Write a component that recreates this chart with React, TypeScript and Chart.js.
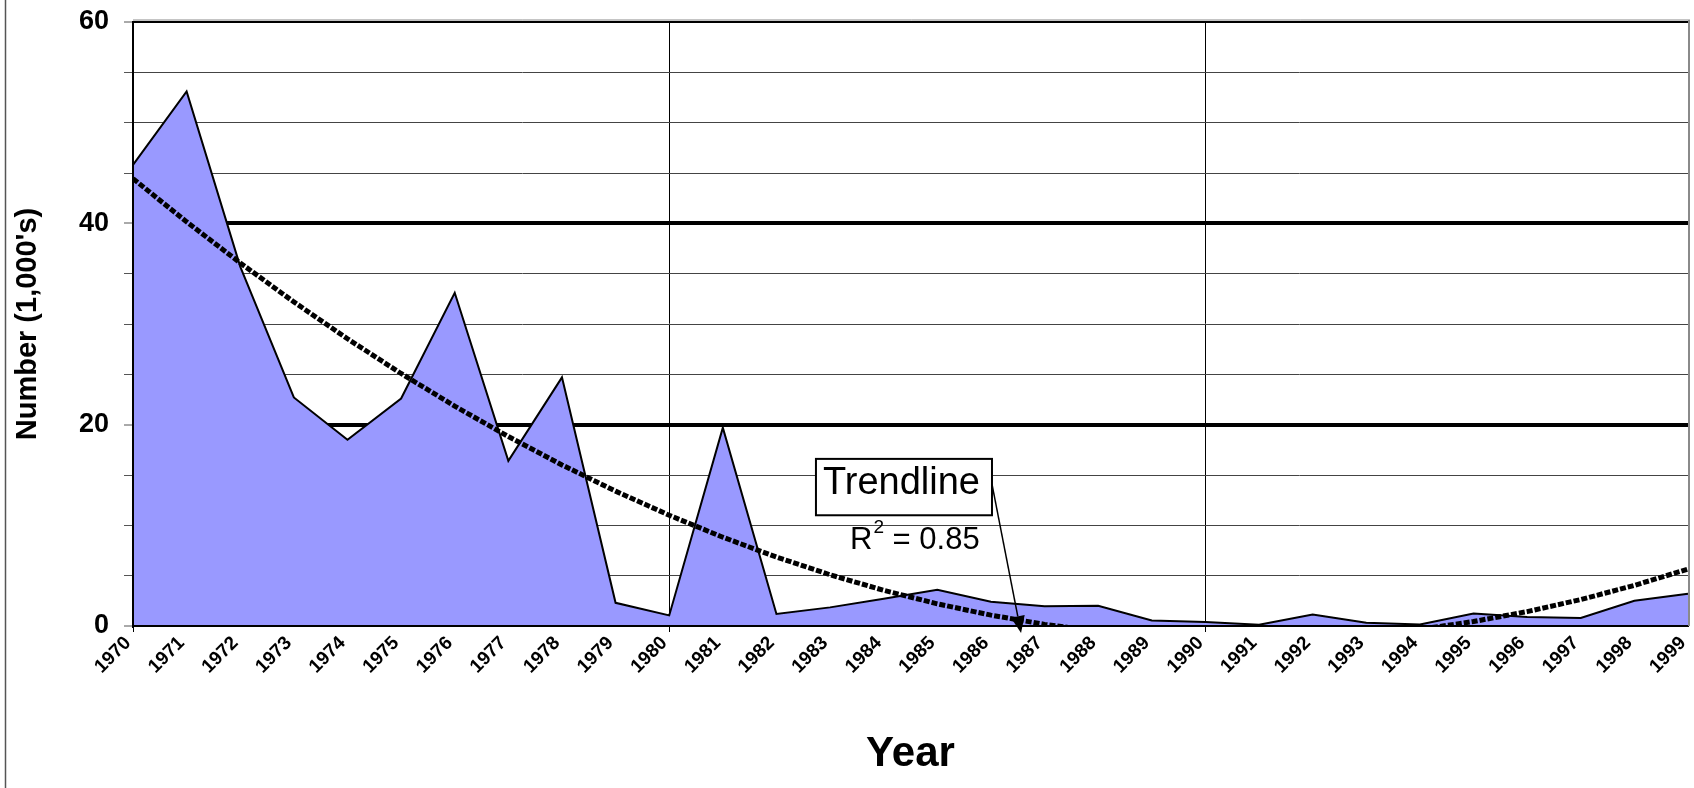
import { useEffect, useRef } from 'react';
import { Chart, registerables } from 'chart.js';

Chart.register(...registerables);

// Category labels along the bottom axis
const years = [
  '1970', '1971', '1972', '1973', '1974', '1975', '1976', '1977', '1978', '1979',
  '1980', '1981', '1982', '1983', '1984', '1985', '1986', '1987', '1988', '1989',
  '1990', '1991', '1992', '1993', '1994', '1995', '1996', '1997', '1998', '1999',
];

// Yearly counts, in thousands
const counts = [
  45.8, 53.1, 35.7, 22.7, 18.5, 22.6, 33.1, 16.4, 24.7, 2.3,
  1.05, 19.7, 1.2, 1.85, 2.7, 3.6, 2.4, 1.95, 2.0, 0.55,
  0.4, 0.13, 1.15, 0.33, 0.16, 1.25, 0.9, 0.8, 2.5, 3.2,
];

// Labelled values on the vertical axis (minor rules every 5)
const yLabelValues = [0, 20, 40, 60];
const yMax = 60;
const yStep = 5;

const calloutTitle = 'Trendline';
const rSquaredText = '0.85';

const FONT = "'Liberation Sans', Arial, Helvetica, sans-serif";

// Second-order polynomial least-squares trend through the counts (x = 0..n-1)
function polynomialTrend(values: number[]): number[] {
  let s0 = 0, s1 = 0, s2 = 0, s3 = 0, s4 = 0, v0 = 0, v1 = 0, v2 = 0;
  values.forEach((y, t) => {
    const t2 = t * t;
    s0 += 1; s1 += t; s2 += t2; s3 += t2 * t; s4 += t2 * t2;
    v0 += y; v1 += t * y; v2 += t2 * y;
  });
  const m = [[s0, s1, s2], [s1, s2, s3], [s2, s3, s4]];
  const rhs = [v0, v1, v2];
  const det = (a: number[][]) =>
    a[0][0] * (a[1][1] * a[2][2] - a[1][2] * a[2][1]) -
    a[0][1] * (a[1][0] * a[2][2] - a[1][2] * a[2][0]) +
    a[0][2] * (a[1][0] * a[2][1] - a[1][1] * a[2][0]);
  const d = det(m);
  const coef = [0, 1, 2].map(
    (k) => det(m.map((row, i) => row.map((x, j) => (j === k ? rhs[i] : x)))) / d,
  );
  return values.map((_, t) => coef[0] + coef[1] * t + coef[2] * t * t);
}

// Plot frame: outer left rule, double top rule, grey right edge
const framePlugin = {
  id: 'frame',
  afterDraw(chart: any) {
    const { ctx, chartArea: a } = chart;
    ctx.save();
    ctx.strokeStyle = '#555';
    ctx.lineWidth = 1.5;
    ctx.beginPath();
    ctx.moveTo(5.5, 0);
    ctx.lineTo(5.5, chart.height);
    ctx.stroke();

    ctx.strokeStyle = '#8a8a8a';
    ctx.lineWidth = 1;
    ctx.beginPath();
    ctx.moveTo(a.left, a.top - 2);
    ctx.lineTo(a.right + 2, a.top - 2);
    ctx.stroke();

    ctx.lineWidth = 2;
    ctx.beginPath();
    ctx.moveTo(a.right + 1, a.top - 2);
    ctx.lineTo(a.right + 1, a.bottom);
    ctx.stroke();
    ctx.restore();
  },
};

// Boxed "Trendline" callout with R² text and an arrow down to the curve
const calloutPlugin = {
  id: 'callout',
  afterDatasetsDraw(chart: any) {
    const { ctx, chartArea: a, scales } = chart;
    const yS = scales.y;
    const fx = (f: number) => a.left + f * (a.right - a.left);

    const boxL = fx(0.4392);
    const boxR = fx(0.5524);
    const boxT = yS.getPixelForValue(16.6);
    const boxB = yS.getPixelForValue(11.0);

    ctx.save();
    // arrow
    const sx = boxR;
    const sy = yS.getPixelForValue(14.1);
    const tx = fx(0.5711);
    const ty = yS.getPixelForValue(-0.7);
    const ang = Math.atan2(ty - sy, tx - sx);
    const headLen = 17;
    const headHalf = 7;
    const bx = tx - headLen * Math.cos(ang);
    const by = ty - headLen * Math.sin(ang);
    ctx.strokeStyle = '#000';
    ctx.lineWidth = 1.5;
    ctx.beginPath();
    ctx.moveTo(sx, sy);
    ctx.lineTo(bx, by);
    ctx.stroke();
    ctx.fillStyle = '#000';
    ctx.beginPath();
    ctx.moveTo(tx, ty);
    ctx.lineTo(bx + headHalf * Math.sin(ang), by - headHalf * Math.cos(ang));
    ctx.lineTo(bx - headHalf * Math.sin(ang), by + headHalf * Math.cos(ang));
    ctx.closePath();
    ctx.fill();

    // box
    ctx.fillStyle = '#fff';
    ctx.fillRect(boxL, boxT, boxR - boxL, boxB - boxT);
    ctx.strokeStyle = '#000';
    ctx.lineWidth = 2;
    ctx.strokeRect(boxL, boxT, boxR - boxL, boxB - boxT);

    ctx.fillStyle = '#000';
    ctx.textBaseline = 'alphabetic';
    ctx.textAlign = 'left';
    ctx.font = `38px ${FONT}`;
    ctx.fillText(calloutTitle, boxL + 7, boxT + 35);

    // R² = value
    const rx = fx(0.4611);
    const ry = yS.getPixelForValue(7.62);
    ctx.font = `31px ${FONT}`;
    ctx.fillText('R', rx, ry);
    const rw = ctx.measureText('R').width;
    ctx.font = `19px ${FONT}`;
    ctx.fillText('2', rx + rw + 1, ry - 16);
    const sw = ctx.measureText('2').width;
    ctx.font = `31px ${FONT}`;
    ctx.fillText(` = ${rSquaredText}`, rx + rw + sw + 1, ry);
    ctx.restore();
  },
};

export default function App() {
  const canvasRef = useRef<HTMLCanvasElement | null>(null);

  useEffect(() => {
    const canvas = canvasRef.current;
    if (!canvas) return;
    const trend = polynomialTrend(counts);

    const chart = new Chart(canvas, {
      type: 'line',
      data: {
        labels: years,
        datasets: [
          {
            label: 'Number',
            data: counts,
            fill: 'origin',
            backgroundColor: '#9999ff',
            borderColor: '#000',
            borderWidth: 2,
            pointRadius: 0,
            tension: 0,
            order: 2,
          },
          {
            label: 'Trend',
            data: trend,
            fill: false,
            borderColor: '#000',
            borderWidth: 5,
            borderDash: [6, 2],
            pointRadius: 0,
            tension: 0,
            clip: 0,
            order: 1,
          },
        ],
      },
      options: {
        responsive: false,
        animation: false,
        devicePixelRatio: 1,
        layout: { padding: { left: 0, right: 6, top: 22, bottom: 0 } },
        plugins: {
          legend: { display: false },
          tooltip: { enabled: false },
        },
        scales: {
          x: {
            type: 'category',
            offset: false,
            afterFit(scale: any) {
              scale.height = 162;
              scale.paddingLeft = 0;
              scale.paddingRight = 0;
              scale.paddingTop = 0;
              scale.paddingBottom = 0;
            },
            grid: {
              color: (c: any) => (c.index % 10 === 0 ? '#000' : 'rgba(0,0,0,0)'),
              lineWidth: 1,
              tickLength: 6,
              tickWidth: 1,
            },
            border: { display: true, color: '#000', width: 2, z: 1 },
            ticks: {
              autoSkip: false,
              minRotation: 45,
              maxRotation: 45,
              padding: 0,
              labelOffset: -5,
              color: '#000',
              font: { family: FONT, size: 19, weight: 'bold' },
            },
            title: {
              display: true,
              text: 'Year',
              color: '#000',
              font: { family: FONT, size: 42, weight: 'bold', lineHeight: 1 },
              padding: { top: 0, bottom: 13 },
            },
          },
          y: {
            min: 0,
            max: yMax,
            afterFit(scale: any) {
              scale.width = 133;
              scale.paddingTop = 0;
              scale.paddingBottom = 0;
              scale.paddingLeft = 0;
              scale.paddingRight = 0;
            },
            ticks: {
              stepSize: yStep,
              padding: 15,
              color: '#000',
              font: { family: FONT, size: 27, weight: 'bold' },
              callback: (v: any) => (yLabelValues.includes(Number(v)) ? String(v) : ''),
            },
            grid: {
              color: (c: any) => {
                const v = c.tick?.value;
                if (v === 0) return 'rgba(0,0,0,0)';
                if (v % 20 === 0) return '#000';
                return '#444';
              },
              lineWidth: (c: any) => {
                const v = c.tick?.value;
                if (v === yMax) return 2;
                if (v % 20 === 0) return 4;
                return 1;
              },
              tickColor: '#555',
              tickWidth: 1,
              tickLength: 9,
            },
            border: { display: true, color: '#000', width: 2, z: 1 },
            title: {
              display: true,
              text: "Number (1,000's)",
              color: '#000',
              font: { family: FONT, size: 29, weight: 'bold', lineHeight: 1 },
              padding: { top: 13, bottom: 0 },
            },
          },
        },
      },
      plugins: [calloutPlugin, framePlugin],
    } as any);

    return () => chart.destroy();
  }, []);

  return (
    <div style={{ position: 'absolute', left: 0, top: 0, width: 1694, height: 788, background: '#fff' }}>
      <canvas ref={canvasRef} width={1694} height={788} />
    </div>
  );
}
